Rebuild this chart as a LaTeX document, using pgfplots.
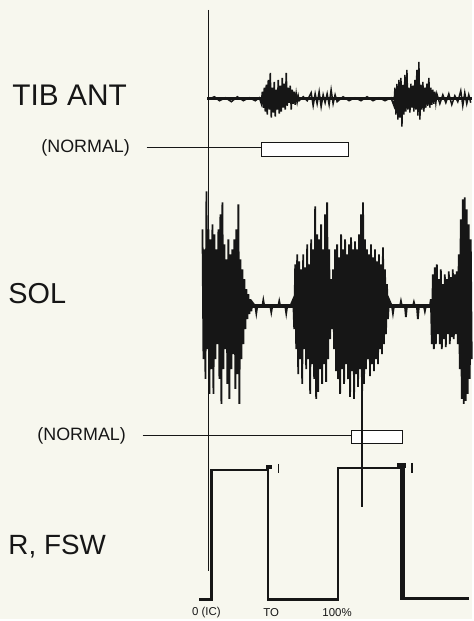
\documentclass[border=0pt]{standalone}
\usepackage{pgfplots}
\pgfplotsset{compat=1.18}
\usepackage{fontspec}
\setmainfont{Liberation Sans}

\definecolor{paper}{RGB}{247,247,238}
\definecolor{ink}{RGB}{22,22,22}

% coordinates are in pixels of the scanned figure, y counted downwards
\begin{document}
\begin{tikzpicture}
\begin{axis}[
  width=473bp, height=621bp, scale only axis,
  xmin=0, xmax=473, ymin=0, ymax=621, y dir=reverse,
  axis lines=none, ticks=none, clip=false,
  ]
  \fill[paper] (rel axis cs:0,0) rectangle (rel axis cs:1,1);

  % time axis (initial contact)
  \addplot[ink, line width=1.8bp] coordinates {(209,10) (209,573)};

  % TIB ANT
  \addplot[ink, line width=3bp] coordinates {(208,99) (473,99)};
  \addplot[ink, line width=1.5bp] coordinates {
    (210,99) (215,97) (220,101) (226,98) (232,102) (238,97) (244,101) (250,98) (256,101) (260,98)
    (262,104) (263,92) (264,108) (265,88) (266,112) (267,85) (268,115) (269,80) (270,110) (271,73)
    (272,118) (273,88) (274,113) (275,82) (276,117) (277,90) (278,110) (279,80) (280,114) (281,86)
    (282,112) (283,78) (284,108) (285,84) (286,110) (287,73) (288,106) (289,88) (290,103) (291,86)
    (292,110) (293,90) (294,104) (295,92) (296,105) (297,94) (298,102) (299,96) (300,101)
    (304,97) (308,101)
    (312,93) (314,106) (316,94) (318,104) (320,92) (322,107) (324,95) (326,103) (328,94) (330,105)
    (332,90) (334,104) (336,95) (338,102)
    (344,97) (350,101) (356,98) (362,101) (368,97) (374,101) (380,98) (386,101) (392,98)
    (395,106) (396,88) (397,115) (398,84) (399,120) (400,80) (401,118) (402,78) (403,127) (404,85)
    (405,115) (406,75) (407,112) (408,70) (409,110) (410,88) (411,113) (412,84) (413,108) (414,86)
    (415,112) (416,80) (417,110) (418,70) (419,116) (420,62) (421,120) (422,85) (423,110) (424,82)
    (425,112) (426,88) (427,108) (428,84) (429,106) (430,78) (431,108) (432,88) (433,105) (434,90)
    (435,104) (436,92) (437,103) (438,94)
    (441,104) (444,95) (447,103) (450,94) (453,105) (456,96) (459,102) (462,91) (464,106) (466,93)
    (468,104) (470,95) (472,103)
  };

  % TIB ANT normal phase
  \addplot[ink, line width=0.7bp] coordinates {(147,148) (262,148)};
  \addplot[ink, line width=0.7bp, fill=white] coordinates {(262,143) (349,143) (349,157) (262,157) (262,143)};

  % SOL
  \addplot[ink, line width=3.5bp] coordinates {(203,307) (473,307)};
  \addplot[ink, line width=1.8bp] coordinates {
    (203,230) (204,360) (205,250) (206,380) (207,192) (208,350) (209,230) (210,395) (211,240) (212,370)
    (213,225) (214,395) (215,235) (216,360) (217,250) (218,345) (219,230) (220,380) (221,215) (222,405)
    (223,203) (224,370) (225,245) (226,350) (227,260) (228,385) (229,240) (230,400) (231,255) (232,370)
    (233,250) (234,355) (235,240) (236,390) (237,230) (238,375) (239,205) (240,405) (241,260) (242,360)
    (243,270) (244,345) (245,280) (246,330) (247,290) (248,320) (249,295) (250,315) (251,300) (252,312)
    (253,303)
    (256,307) (257,314) (258,307) (263,307) (264,301) (265,307) (271,307) (272,313) (273,307)
    (279,307) (280,302) (281,307) (286,307) (287,314) (288,307) (291,307)
    (294,300) (295,330) (296,265) (297,350) (298,255) (299,375) (300,262) (301,360) (302,270) (303,385)
    (304,255) (305,350) (306,268) (307,370) (308,245) (309,360) (310,265) (311,395) (312,240) (313,365)
    (314,250) (315,380) (316,207) (317,400) (318,235) (319,393) (320,240) (321,370) (322,225) (323,385)
    (324,250) (325,365) (326,215) (327,383) (328,203) (329,360) (330,250) (331,340) (332,280) (333,330)
    (334,270) (335,350) (336,250) (337,372) (338,245) (339,380) (340,258) (341,395) (342,235) (343,370)
    (344,250) (345,385) (346,240) (347,365) (348,255) (349,380) (350,245) (351,398) (352,238) (353,372)
    (354,250) (355,400) (356,242) (357,375) (358,250) (359,388) (360,235) (361,370) (362,215) (363,405)
    (364,203) (365,385) (366,240) (367,370) (368,250) (369,360) (370,255) (371,377) (372,245) (373,365)
    (374,258) (375,372) (376,250) (377,360) (378,262) (379,365) (380,255) (381,350) (382,265) (383,355)
    (384,248) (385,345) (386,270) (387,335) (388,285) (389,320) (390,300)
    (393,307) (394,314) (395,307) (401,307) (402,302) (403,307) (406,307) (407,318) (408,307)
    (414,307) (415,303) (416,307) (418,307) (419,320) (420,307) (425,307) (426,312) (427,307) (431,307)
    (432,300) (433,345) (434,275) (435,350) (436,268) (437,345) (438,265) (439,335) (440,280) (441,345)
    (442,270) (443,350) (444,285) (445,340) (446,275) (447,348) (448,280) (449,335) (450,272) (451,345)
    (452,278) (453,338) (454,270) (455,340) (456,275) (457,335) (458,272) (459,345) (460,255) (461,370)
    (462,220) (463,400) (464,200) (465,405) (466,198) (467,402) (468,210) (469,395) (470,225) (471,380)
    (472,240) (473,360)
  };

  % SOL normal phase
  \addplot[ink, line width=0.7bp] coordinates {(143,437) (352,437)};
  \addplot[ink, line width=0.7bp, fill=white] coordinates {(352,431) (403,431) (403,445) (352,445) (352,431)};
  \addplot[ink, line width=1.2bp] coordinates {(363,405) (363,508)};

  % R, FSW footswitch
  \addplot[ink, line width=2.4bp] coordinates {
    (200,601) (212,601) (212,471) (269,471) (269,601) (339,601)
    (339,469) (402,469) (402,600) (470,600)
  };
  \addplot[ink, line width=4bp] coordinates {(404,464) (404,600)};
  \addplot[ink, line width=5bp] coordinates {(398,467) (407,467)};
  \addplot[ink, line width=4bp] coordinates {(267,468) (273,468)};
  \addplot[ink, line width=1.4bp] coordinates {(279,465) (279,474)};
  \addplot[ink, line width=1.4bp] coordinates {(413,464) (413,474)};
  \addplot[ink, line width=3.5bp] coordinates {(427,600) (441,600)};

  % labels
  \node[anchor=west, font=\fontsize{30}{32}\selectfont, text=ink] at (axis cs:9,96) {TIB ANT};
  \node[anchor=west, font=\fontsize{29}{31}\selectfont, text=ink] at (axis cs:5,294) {SOL};
  \node[anchor=west, font=\fontsize{28}{30}\selectfont, text=ink] at (axis cs:5,548) {R, FSW};
  \node[anchor=west, font=\fontsize{18}{20}\selectfont, text=ink] at (axis cs:38,148) {(NORMAL)};
  \node[anchor=west, font=\fontsize{18}{20}\selectfont, text=ink] at (axis cs:34,437) {(NORMAL)};
  \node[font=\fontsize{11.5}{13}\selectfont, text=ink] at (axis cs:207,614) {0 (IC)};
  \node[font=\fontsize{11.5}{13}\selectfont, text=ink] at (axis cs:272,614) {TO};
  \node[font=\fontsize{11.5}{13}\selectfont, text=ink] at (axis cs:338,614) {100\%};
\end{axis}
\end{tikzpicture}
\end{document}
